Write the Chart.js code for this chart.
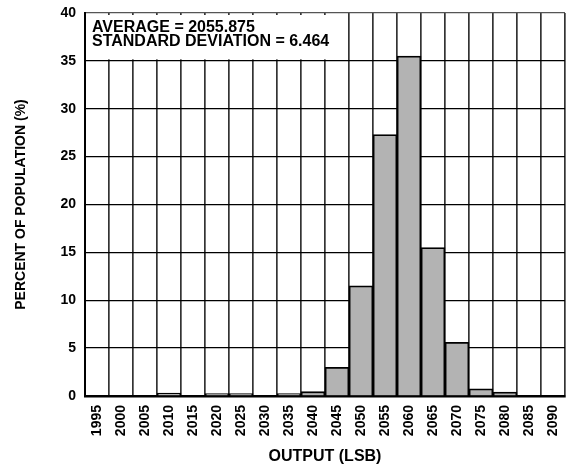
<!DOCTYPE html>
<html><head><meta charset="utf-8">
<script src="https://cdn.jsdelivr.net/npm/chart.js@4/dist/chart.umd.min.js"></script>
<style>html,body{margin:0;padding:0;background:#fff}#wrap{width:568px;height:466px}</style>
</head><body><div id="wrap"><canvas id="c" width="568" height="466"></canvas></div>
<script>
const categories = ['1995','2000','2005','2010','2015','2020','2025','2030','2035','2040','2045','2050','2055','2060','2065','2070','2075','2080','2085','2090'];
const percentValues = [0, 0, 0, 0.3, 0, 0.25, 0.25, 0, 0.25, 0.45, 3.0, 11.5, 27.3, 35.5, 15.5, 5.6, 0.75, 0.4, 0, 0];
const yTicks = [0, 5, 10, 15, 20, 25, 30, 35, 40];
const annotationLines = ['AVERAGE = 2055.875', 'STANDARD DEVIATION = 6.464'];
const xTitle = 'OUTPUT (LSB)';
const yTitle = 'PERCENT OF POPULATION (%)';

const FONT = '"Liberation Sans", Arial, Helvetica, sans-serif';

const annotationPlugin = {
  id: 'annot',
  afterDraw(chart) {
    const ctx = chart.ctx;
    const xs = chart.scales.x, ys = chart.scales.y;
    const ca = chart.chartArea;
    const edge = (xs.getPixelForValue(10) + xs.getPixelForValue(11)) / 2;
    const left = ca.left + 1.5;
    const right = edge - 1;
    const top = ca.top + 2;
    const bottom = ys.getPixelForValue(35) - 1.5;
    ctx.save();
    ctx.fillStyle = '#fff';
    ctx.fillRect(left, top, right - left, bottom - top);
    ctx.fillStyle = '#000';
    ctx.font = 'bold 16px ' + FONT;
    ctx.textBaseline = 'alphabetic';
    ctx.textAlign = 'left';
    ctx.fillText(annotationLines[0], ca.left + 7, ca.top + 19);
    ctx.fillText(annotationLines[1], ca.left + 7, ca.top + 33);
    ctx.restore();
  }
};

new Chart(document.getElementById('c'), {
  type: 'bar',
  data: {
    labels: categories,
    datasets: [{
      data: percentValues,
      backgroundColor: '#b3b3b3',
      borderColor: '#000',
      borderWidth: 1.8,
      barPercentage: 1,
      categoryPercentage: 1
    }]
  },
  options: {
    responsive: false,
    animation: false,
    layout: { padding: { left: 0, right: 3, top: 13, bottom: 0 } },
    plugins: { legend: { display: false }, tooltip: { enabled: false } },
    scales: {
      x: {
        z: 1,
        offset: true,
        grid: {
          offset: true,
          drawTicks: false,
          lineWidth: 1.7,
          color: (c) => (c.index === categories.length ? '#000' : '#333')
        },
        border: { display: true, color: '#000', width: 2.5 },
        ticks: {
          autoSkip: false,
          minRotation: 90,
          maxRotation: 90,
          padding: 9,
          color: '#000',
          font: { family: FONT, size: 14, weight: 'bold' }
        },
        title: {
          display: true,
          text: xTitle,
          color: '#000',
          font: { family: FONT, size: 16, weight: 'bold', lineHeight: 1.1 },
          padding: { top: 0, bottom: 1 }
        },
        afterFit(scale) { scale.height = 70; scale.paddingLeft = 0; scale.paddingRight = 0; }
      },
      y: {
        z: 1,
        min: 0,
        max: 40,
        afterBuildTicks(scale) { scale.ticks = yTicks.map(v => ({ value: v })); },
        grid: {
          drawTicks: false,
          lineWidth: 1.3,
          color: (c) => (c.tick && c.tick.value === 40 ? '#555' : '#000')
        },
        border: { display: true, color: '#000', width: 2 },
        ticks: {
          padding: 9,
          color: '#000',
          font: { family: FONT, size: 14, weight: 'bold' }
        },
        title: {
          display: true,
          text: yTitle,
          color: '#000',
          font: { family: FONT, size: 14, weight: 'bold', lineHeight: 1.2 },
          padding: { top: 13, bottom: 0 }
        },
        afterFit(scale) { scale.width = 85; scale.paddingTop = 0; scale.paddingBottom = 0; }
      }
    }
  },
  plugins: [annotationPlugin]
});
</script>
</body></html>
